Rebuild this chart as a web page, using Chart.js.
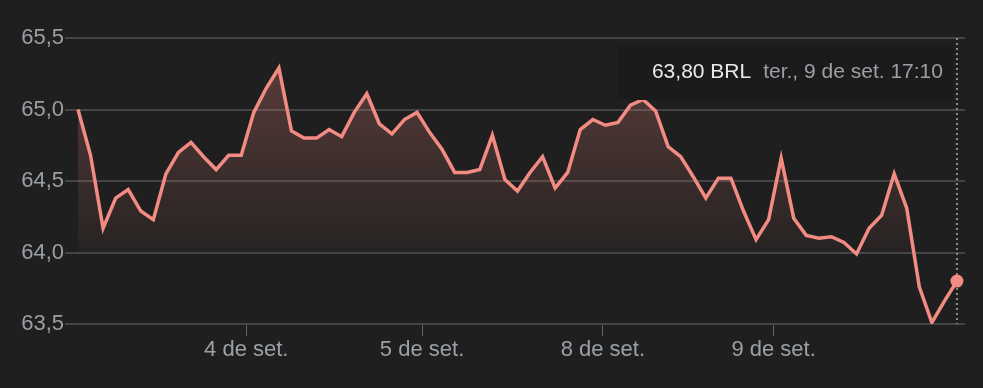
<!DOCTYPE html>
<html>
<head>
<meta charset="utf-8">
<script src="https://cdn.jsdelivr.net/npm/chart.js@4.4.1/dist/chart.umd.min.js"></script>
<style>
  html, body { margin: 0; padding: 0; background: #1f1f1f; }
  #wrap { width: 983px; height: 388px; position: relative; }
</style>
</head>
<body>
<div id="wrap"><canvas id="chart"></canvas></div>
<script>
// BRL price, 3 - 9 de set., one sample every step
const prices = [
  65.00, 64.68, 64.17, 64.38, 64.44, 64.29, 64.23, 64.55, 64.70, 64.77,
  64.67, 64.58, 64.68, 64.68, 64.98, 65.15, 65.29, 64.85, 64.80, 64.80,
  64.86, 64.81, 64.98, 65.11, 64.90, 64.83, 64.93, 64.98, 64.84, 64.72,
  64.56, 64.56, 64.58, 64.82, 64.51, 64.43, 64.56, 64.67, 64.45, 64.56,
  64.86, 64.93, 64.89, 64.91, 65.03, 65.07, 64.99, 64.74, 64.67, 64.53,
  64.38, 64.52, 64.52, 64.29, 64.09, 64.23, 64.66, 64.24, 64.12, 64.10,
  64.11, 64.07, 63.99, 64.17, 64.26, 64.55, 64.31, 63.76, 63.51, 63.66,
  63.80
];
// where each new trading day starts (in sample units)
const dayTickPos = [13.4, 27.4, 41.8, 55.4];
const dayLabels = ['4 de set.', '5 de set.', '8 de set.', '9 de set.'];
const yTicks = [63.5, 64.0, 64.5, 65.0, 65.5];
const baseline = 64.0;
const currency = 'BRL';
const lastTimeLabel = 'ter., 9 de set. 17:10';

const lineColor = '#f28b82';
const labelColor = '#9aa0a6';
const fontFamily = '"Liberation Sans", Arial, sans-serif';

const fmt = (v, d) => v.toFixed(d).replace('.', ',');
const lastIdx = prices.length - 1;

const marker = {
  id: 'marker',
  beforeDatasetsDraw(chart) {
    const { ctx, chartArea } = chart;
    const x = chart.scales.x.getPixelForValue(lastIdx);
    ctx.save();
    ctx.strokeStyle = '#8a8d91';
    ctx.lineWidth = 2;
    ctx.setLineDash([2, 3]);
    ctx.beginPath();
    ctx.moveTo(x, chartArea.top);
    ctx.lineTo(x, chartArea.bottom);
    ctx.stroke();
    ctx.restore();
  },
  afterDraw(chart) {
    const { ctx, chartArea } = chart;
    const x = chart.scales.x.getPixelForValue(lastIdx);
    ctx.save();
    // box
    ctx.fillStyle = '#1b1b1b';
    ctx.fillRect(618, chartArea.top + 7, x - 4 - 618, 55);
    const ty = chartArea.top + 34;
    ctx.textBaseline = 'middle';
    ctx.textAlign = 'right';
    ctx.font = '21px ' + fontFamily;
    ctx.fillStyle = labelColor;
    const right = x - 14;
    ctx.fillText(lastTimeLabel, right, ty);
    const w = ctx.measureText(lastTimeLabel).width;
    ctx.font = '21px ' + fontFamily;
    ctx.fillStyle = '#e8eaed';
    ctx.fillText(fmt(prices[lastIdx], 2) + ' ' + currency, right - w - 12, ty);
    ctx.restore();
  }
};

new Chart(document.getElementById('chart'), {
  type: 'line',
  data: {
    datasets: [{
      data: prices.map((p, i) => ({ x: i, y: p })),
      borderColor: lineColor,
      borderWidth: 3.5,
      tension: 0,
      pointRadius: (ctx) => ctx.dataIndex === lastIdx ? 6.5 : 0,
      pointHoverRadius: 0,
      pointBackgroundColor: lineColor,
      pointBorderWidth: 0,
      fill: { value: baseline, below: 'rgba(0,0,0,0)' },
      backgroundColor: (ctx) => {
        const area = ctx.chart.chartArea;
        if (!area) return 'rgba(242,139,130,0.15)';
        const yb = ctx.chart.scales.y.getPixelForValue(baseline);
        const g = ctx.chart.ctx.createLinearGradient(0, area.top, 0, yb);
        g.addColorStop(0, 'rgba(242,139,130,0.30)');
        g.addColorStop(1, 'rgba(242,139,130,0.04)');
        return g;
      }
    }]
  },
  options: {
    responsive: true,
    maintainAspectRatio: false,
    animation: false,
    events: [],
    layout: { padding: { top: 38, right: 18, left: 0, bottom: 0 } },
    scales: {
      x: {
        type: 'linear',
        min: -1.035,
        max: 70.64,
        afterBuildTicks: (scale) => { scale.ticks = dayTickPos.map(v => ({ value: v })); },
        afterFit: (scale) => { scale.height = 64; },
        grid: {
          drawOnChartArea: false,
          drawTicks: true,
          tickLength: 12,
          color: '#5f6368'
        },
        border: { display: false },
        ticks: {
          autoSkip: false,
          maxRotation: 0,
          padding: 1,
          color: labelColor,
          font: { family: fontFamily, size: 22 },
          callback: (v, i) => dayLabels[i]
        }
      },
      y: {
        min: 63.5,
        max: 65.5,
        afterBuildTicks: (scale) => { scale.ticks = yTicks.map(v => ({ value: v })); },
        afterFit: (scale) => { scale.width = 65; },
        grid: {
          drawTicks: false,
          color: '#444444',
          lineWidth: 2
        },
        border: { display: false },
        ticks: {
          padding: 1,
          color: labelColor,
          font: { family: fontFamily, size: 22 },
          callback: (v) => fmt(v, 1)
        }
      }
    },
    plugins: {
      legend: { display: false },
      tooltip: { enabled: false }
    }
  },
  plugins: [marker]
});
</script>
</body>
</html>
